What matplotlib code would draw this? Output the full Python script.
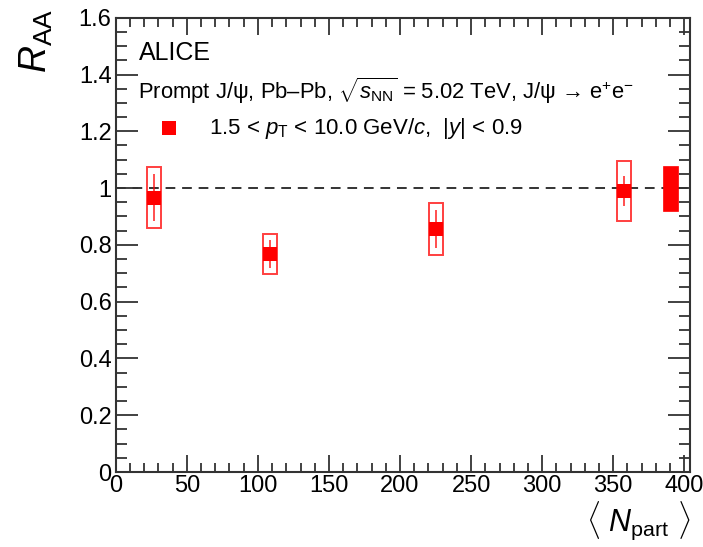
import numpy as np
import matplotlib
matplotlib.use('Agg')
import matplotlib.pyplot as plt
from matplotlib.patches import Rectangle
from matplotlib.ticker import MultipleLocator

# data
npart = [26.8, 108.8, 225.4, 357.6]
raa = [0.966, 0.768, 0.856, 0.990]
stat_err = [0.082, 0.049, 0.067, 0.052]
syst_err = [0.107, 0.070, 0.093, 0.107]
global_npart = 390.3
global_err = 0.079

plt.rcParams['font.family'] = ['Liberation Sans', 'DejaVu Sans']
plt.rcParams['mathtext.fontset'] = 'custom'
plt.rcParams['mathtext.rm'] = 'Liberation Sans'
plt.rcParams['mathtext.it'] = 'Liberation Sans:italic'
plt.rcParams['mathtext.bf'] = 'Liberation Sans:bold'

RED = '#ff0000'
FRAME = '#333333'

fig = plt.figure(figsize=(7.03, 5.47), dpi=100)
ax = fig.add_axes([0.1646, 0.1371, 0.8169, 0.8305])

ax.set_xlim(0, 404)
ax.set_ylim(0, 1.6)

# unity line
ax.axhline(1.0, color=FRAME, lw=1.4, ls=(0, (5, 3.5)), zorder=1)

# systematic boxes
box_w = 10.0
for x, y, s in zip(npart, raa, syst_err):
    ax.add_patch(Rectangle((x - box_w / 2, y - s), box_w, 2 * s, fill=False,
                           edgecolor=RED, alpha=0.75, lw=1.4, zorder=3))

# global uncertainty box
gw = 10.8
ax.add_patch(Rectangle((global_npart - gw / 2, 1.0 - global_err), gw, 2 * global_err,
                       facecolor=RED, edgecolor=RED, lw=0.5, zorder=3))

# statistical errors
ax.errorbar(npart, raa, yerr=stat_err, fmt='none', ecolor=RED, elinewidth=1.3,
            alpha=0.75, capsize=0, zorder=4)
ax.plot(npart, raa, ls='none', marker='s', ms=9.8, mfc=RED, mec=RED, mew=0, zorder=5)

# ticks in ROOT style
ax.xaxis.set_major_locator(MultipleLocator(50))
ax.xaxis.set_minor_locator(MultipleLocator(10))
ax.yaxis.set_major_locator(MultipleLocator(0.2))
ax.yaxis.set_minor_locator(MultipleLocator(0.05))
ax.tick_params(which='both', direction='in', top=True, right=True, color=FRAME,
               width=1.3, labelsize=17)
ax.tick_params(axis='x', which='major', length=12, pad=2)
ax.tick_params(axis='x', which='minor', length=6.5)
ax.tick_params(axis='y', which='major', length=16, pad=3)
ax.tick_params(axis='y', which='minor', length=8)
ax.set_yticks([0, 0.2, 0.4, 0.6, 0.8, 1.0, 1.2, 1.4, 1.6])
ax.set_yticklabels(['0', '0.2', '0.4', '0.6', '0.8', '1', '1.2', '1.4', '1.6'])
for sp in ax.spines.values():
    sp.set_color(FRAME)
    sp.set_linewidth(1.5)

ax.set_ylabel(r'$R_{\rm AA}$', fontsize=27, loc='top')
ax.yaxis.set_label_coords(-0.105, 1.02)
ax.set_xlabel(r'$\langle\ N_{\rm part}\ \rangle$', fontsize=22, loc='right', labelpad=2)

# annotations
ax.text(0.041, 0.907, 'ALICE', transform=ax.transAxes, fontsize=18, va='baseline')
ax.text(0.039, 0.822,
        'Prompt J/ψ, Pb–Pb, $\\sqrt{s_{\\rm NN}}$ = 5.02 TeV, J/ψ → e$^{+}$e$^{-}$',
        transform=ax.transAxes, fontsize=15.8, va='baseline')
ax.plot([0.093], [0.758], transform=ax.transAxes, ls='none', marker='s', ms=9.5,
        mfc=RED, mec=RED, mew=0, clip_on=False)
ax.text(0.163, 0.743, r'1.5 < $p_{\rm T}$ < 10.0 GeV/$c$,  |$y$| < 0.9',
        transform=ax.transAxes, fontsize=16, va='baseline')

fig.savefig('out.png', dpi=100)
